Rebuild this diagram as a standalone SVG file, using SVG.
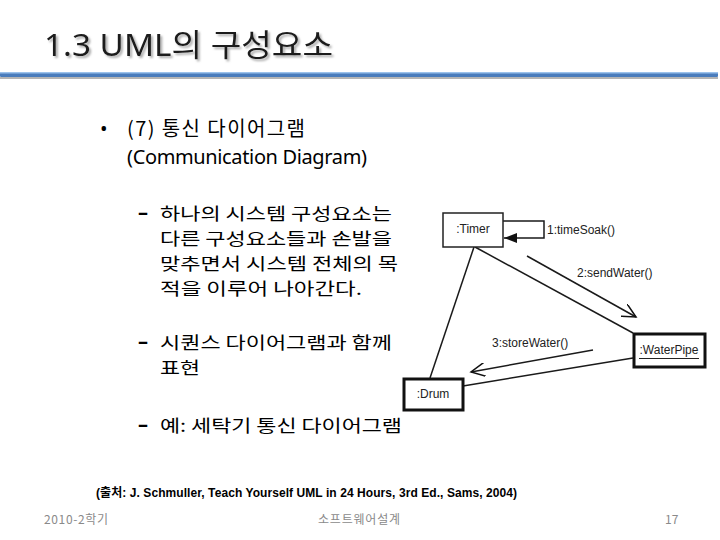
<svg xmlns="http://www.w3.org/2000/svg" width="720" height="540" viewBox="0 0 720 540">
<defs>
<filter id="shadow" x="-5%" y="-20%" width="110%" height="150%">
<feDropShadow dx="2" dy="2" stdDeviation="1" flood-color="#888" flood-opacity="0.7"/>
</filter>
<marker id="filled" markerWidth="14" markerHeight="10" refX="13" refY="5" orient="auto" markerUnits="userSpaceOnUse">
<path d="M0,0 L13,5 L0,10 z" fill="#111"/>
</marker>
<marker id="open" markerWidth="16" markerHeight="14" refX="14" refY="7" orient="auto" markerUnits="userSpaceOnUse">
<path d="M0,0 L14,7 L0,14" fill="none" stroke="#111" stroke-width="1.5"/>
</marker>
</defs>
<style>
.title{font-family:"Noto Sans","Noto Sans CJK KR",sans-serif;font-size:31px;fill:#1a1a1a}
.head{font-family:"Noto Sans CJK KR","Noto Sans",sans-serif;font-size:20px;fill:#000}
.body{font-family:"Noto Sans CJK KR","Noto Sans",sans-serif;font-size:17px;fill:#000}
.lat{font-family:"Noto Sans","Noto Sans CJK KR",sans-serif;font-size:20px;fill:#000}
.dash{font-family:"Noto Sans",sans-serif;font-size:20px;font-weight:bold;fill:#000}
.lbl{font-family:"Liberation Sans",Arial,sans-serif;font-size:12px;fill:#222}
.foot{font-family:"Noto Sans CJK KR","Noto Sans",sans-serif;font-size:12px;fill:#8a8a8a}
.cite{font-family:"Liberation Sans","Noto Sans CJK KR",sans-serif;font-size:12px;font-weight:bold;fill:#000}
.thin{fill:#fff;stroke:#222;stroke-width:1.5}
.thick{fill:#fff;stroke:#111;stroke-width:3}
.conn{fill:none;stroke:#1a1a1a;stroke-width:1.5}
</style>
<rect width="720" height="540" fill="#fff"/>
<g id="title">
<text class="title" x="44" y="56" textLength="289" lengthAdjust="spacingAndGlyphs" filter="url(#shadow)">1.3 UML의 구성요소</text>
<rect x="0" y="77" width="718" height="2" fill="#b5b5b5"/>
<rect x="0" y="72" width="718" height="5" fill="#4a7cbc" rx="1"/>
<rect x="0" y="72" width="718" height="1.5" fill="#9cc2ec"/>
</g>
<g id="text">
<text class="lat" x="100" y="136">•</text>
<text class="head" x="127" y="136" textLength="178">(7) 통신 다이어그램</text>
<text class="lat" x="127" y="164" textLength="240">(Communication Diagram)</text>
<text class="dash" x="138" y="219">–</text>
<text class="body" x="160" y="220" textLength="232" lengthAdjust="spacingAndGlyphs">하나의 시스템 구성요소는</text>
<text class="body" x="160" y="245" textLength="232" lengthAdjust="spacingAndGlyphs">다른 구성요소들과 손발을</text>
<text class="body" x="160" y="270" textLength="238" lengthAdjust="spacingAndGlyphs">맞추면서 시스템 전체의 목</text>
<text class="body" x="160" y="295" textLength="202" lengthAdjust="spacingAndGlyphs">적을 이루어 나아간다.</text>
<text class="dash" x="138" y="348">–</text>
<text class="body" x="160" y="349" textLength="232" lengthAdjust="spacingAndGlyphs">시퀀스 다이어그램과 함께</text>
<text class="body" x="160" y="374" textLength="40" lengthAdjust="spacingAndGlyphs">표현</text>
<text class="dash" x="138" y="431">–</text>
<text class="body" x="160" y="432" textLength="242" lengthAdjust="spacingAndGlyphs">예: 세탁기 통신 다이어그램</text>
<text class="cite" x="96" y="497" textLength="421">(출처: J. Schmuller, Teach Yourself UML in 24 Hours, 3rd Ed., Sams, 2004)</text>
<text class="foot" x="44" y="524" textLength="64">2010-2학기</text>
<text class="foot" x="318" y="524" textLength="82">소프트웨어설계</text>
<text class="foot" x="665" y="524">17</text>
</g>
<g id="connectors">
<line class="conn" x1="475" y1="247" x2="633" y2="333"/>
<line class="conn" x1="474" y1="247" x2="430" y2="378"/>
<line class="conn" x1="633" y1="358" x2="463" y2="386"/>
<polyline class="conn" points="503,221 544,221 544,238 504,238" marker-end="url(#filled)"/>
<line class="conn" x1="527" y1="256" x2="636" y2="317" marker-end="url(#open)"/>
<line class="conn" x1="593" y1="350" x2="471" y2="372" marker-end="url(#open)"/>
<text class="lbl" x="547" y="234">1:timeSoak()</text>
<text class="lbl" x="577" y="277">2:sendWater()</text>
<text class="lbl" x="492" y="347">3:storeWater()</text>
</g>
<g id="timer">
<rect class="thin" x="443" y="213" width="60" height="34"/>
<text class="lbl" x="473" y="233" text-anchor="middle">:Timer</text>
</g>
<g id="waterpipe">
<rect class="thick" x="634" y="334" width="71" height="33"/>
<text class="lbl" x="669" y="354" text-anchor="middle">:WaterPipe</text>
<line x1="639" y1="358.5" x2="699" y2="358.5" stroke="#222" stroke-width="1"/>
</g>
<g id="drum">
<rect class="thick" x="404" y="379" width="59" height="31"/>
<text class="lbl" x="433" y="398" text-anchor="middle">:Drum</text>
</g>
</svg>
